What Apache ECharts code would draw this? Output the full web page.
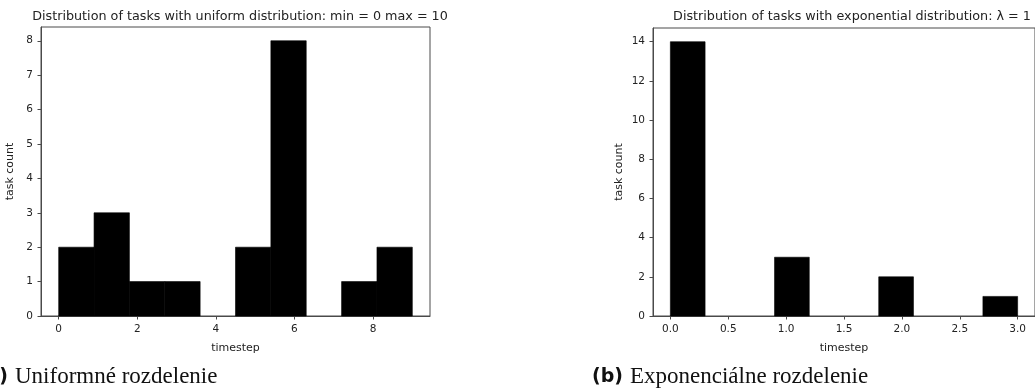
<!DOCTYPE html>
<html>
<head>
<meta charset="utf-8">
<script src="https://cdn.jsdelivr.net/npm/echarts@6/dist/echarts.min.js"></script>
<style>
  html, body { margin: 0; padding: 0; background: #fff; }
  #chart { width: 1035px; height: 392px; }
</style>
</head>
<body>
<div id="chart"></div>
<script>
// histogram bins (edges) and counts
const uniformEdges = [0, 0.9, 1.8, 2.7, 3.6, 4.5, 5.4, 6.3, 7.2, 8.1, 9.0]
const uniformCounts = [2, 3, 1, 1, 0, 2, 8, 0, 1, 2]
const expEdges = [0, 0.3, 0.6, 0.9, 1.2, 1.5, 1.8, 2.1, 2.4, 2.7, 3.0]
const expCounts = [14, 0, 0, 3, 0, 0, 2, 0, 0, 1]

// tick labels
const uniformXTicks = [0, 2, 4, 6, 8]
const uniformYTicks = [0, 1, 2, 3, 4, 5, 6, 7, 8]
const expXTicks = [0, 0.5, 1.0, 1.5, 2.0, 2.5, 3.0]
const expYTicks = [0, 2, 4, 6, 8, 10, 12, 14]

const titles = [
  "Distribution of tasks with uniform distribution: min = 0 max = 10",
  "Distribution of tasks with exponential distribution: λ = 1"
]
const captions = [
  ["(a)", "Uniformné rozdelenie"],
  ["(b)", "Exponenciálne rozdelenie"]
]

function toBins(edges, counts) {
  return counts.map((c, i) => [edges[i], edges[i + 1], c])
}

const FONT = "DejaVu Sans"
const TXT = "#222"
const LINE = "#4a4a4a"

function renderBin(params, api) {
  if (!api.value(2)) return null
  const p0 = api.coord([api.value(0), api.value(2)])
  const p1 = api.coord([api.value(1), 0])
  return {
    type: "rect",
    shape: { x: p0[0], y: p0[1], width: p1[0] - p0[0], height: p1[1] - p0[1] },
    style: { fill: "#000", stroke: "#000", lineWidth: 0.6 }
  }
}

function xAxisOf(gridIndex, min, max, ticks, fmt) {
  return {
    type: "value",
    gridIndex: gridIndex,
    min: min,
    max: max,
    name: "timestep",
    nameLocation: "middle",
    nameGap: 27,
    nameTextStyle: { fontFamily: FONT, fontSize: 11, color: TXT },
    splitLine: { show: false },
    axisLine: { show: true, onZero: false, lineStyle: { color: LINE, width: 1 } },
    axisTick: { show: true, length: 3.5, customValues: ticks, lineStyle: { color: LINE } },
    axisLabel: {
      customValues: ticks,
      fontFamily: FONT, fontSize: 10.5, color: TXT, margin: 7.5,
      formatter: fmt
    }
  }
}

function yAxisOf(gridIndex, max, ticks, gap) {
  return {
    type: "value",
    gridIndex: gridIndex,
    min: 0,
    max: max,
    name: "task count",
    nameLocation: "middle",
    nameGap: gap,
    nameTextStyle: { fontFamily: FONT, fontSize: 11, color: TXT },
    splitLine: { show: false },
    axisLine: { show: true, onZero: false, lineStyle: { color: LINE, width: 1 } },
    axisTick: { show: true, length: 3.5, customValues: ticks, lineStyle: { color: LINE } },
    axisLabel: {
      customValues: ticks,
      fontFamily: FONT, fontSize: 10.5, color: TXT, margin: 8
    }
  }
}

function captionOf(c, x) {
  return [
    {
      type: "text", x: x, y: 377,
      style: {
        text: c[0], textAlign: "right", textVerticalAlign: "middle",
        fontFamily: "DejaVu Sans", fontWeight: "bold", fontSize: 19, fill: "#111"
      }
    },
    {
      type: "text", x: x + 7, y: 377,
      style: {
        text: c[1], textAlign: "left", textVerticalAlign: "middle",
        fontFamily: "Liberation Serif", fontSize: 23, fill: "#111"
      }
    }
  ]
}

const chart = echarts.init(document.getElementById("chart"), null, { renderer: "canvas" })

const option = {
  animation: false,
  backgroundColor: "#fff",
  title: [
    {
      text: titles[0], left: 235, top: 5, textAlign: "center",
      textStyle: { fontFamily: FONT, fontSize: 12.75, fontWeight: "normal", color: TXT }
    },
    {
      text: titles[1], left: 847, top: 5, textAlign: "center",
      textStyle: { fontFamily: FONT, fontSize: 12.75, fontWeight: "normal", color: TXT }
    }
  ],
  grid: [
    { left: 41, top: 27, width: 389, height: 289, show: true, borderColor: LINE, borderWidth: 1 },
    { left: 653, top: 28, width: 388, height: 288, show: true, borderColor: LINE, borderWidth: 1 }
  ],
  xAxis: [
    xAxisOf(0, -0.45, 9.45, uniformXTicks, v => String(v)),
    xAxisOf(1, -0.15, 3.15, expXTicks, v => v.toFixed(1))
  ],
  yAxis: [
    yAxisOf(0, 8.4, uniformYTicks, 25),
    yAxisOf(1, 14.7, expYTicks, 28)
  ],
  series: [
    {
      type: "custom",
      xAxisIndex: 0, yAxisIndex: 0,
      renderItem: renderBin,
      encode: { x: [0, 1], y: 2 },
      data: toBins(uniformEdges, uniformCounts)
    },
    {
      type: "custom",
      xAxisIndex: 1, yAxisIndex: 1,
      renderItem: renderBin,
      encode: { x: [0, 1], y: 2 },
      data: toBins(expEdges, expCounts)
    }
  ],
  graphic: [].concat(captionOf(captions[0], 8), captionOf(captions[1], 623))
}

chart.setOption(option)
</script>
</body>
</html>
